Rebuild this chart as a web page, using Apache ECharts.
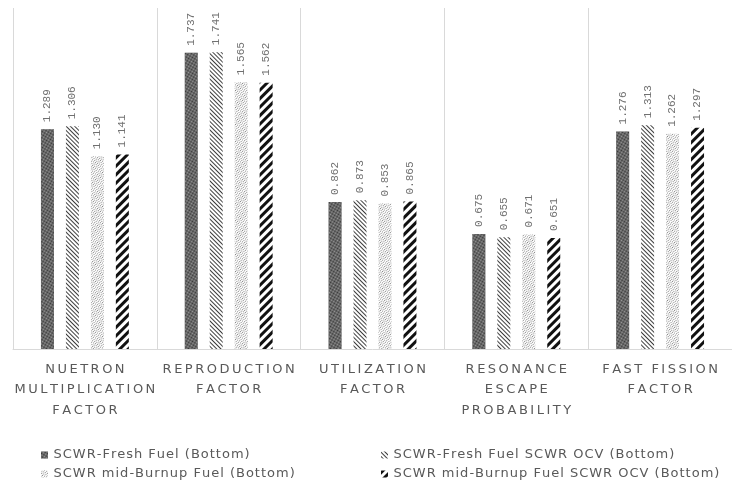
<!DOCTYPE html>
<html>
<head>
<meta charset="utf-8">
<script src="https://cdn.jsdelivr.net/npm/echarts@6/dist/echarts.min.js"></script>
<style>
  html, body { margin: 0; padding: 0; background: #ffffff; }
  #chart { width: 732px; height: 493px; }
</style>
</head>
<body>
<div id="chart"></div>
<script>
// Neutron-balance factors for the SCWR fuel cases
const categories = [
  'NUETRON\nMULTIPLICATION\nFACTOR',
  'REPRODUCTION\nFACTOR',
  'UTILIZATION\nFACTOR',
  'RESONANCE\nESCAPE\nPROBABILITY',
  'FAST FISSION\nFACTOR'
];
const seriesNames = [
  'SCWR-Fresh Fuel (Bottom)',
  'SCWR-Fresh Fuel SCWR OCV (Bottom)',
  'SCWR mid-Burnup Fuel (Bottom)',
  'SCWR mid-Burnup Fuel SCWR OCV (Bottom)'
];
const freshBottom = [1.289, 1.737, 0.862, 0.675, 1.276];
const freshOcv    = [1.306, 1.741, 0.873, 0.655, 1.313];
const midBottom   = [1.130, 1.565, 0.853, 0.671, 1.262];
const midOcv      = [1.141, 1.562, 0.865, 0.651, 1.297];

// Fill patterns for the four bar series
const patterns = [
  { // dense dark checker
    color: '#333333',
    decal: { symbol: 'rect', symbolSize: 1, color: 'rgba(255,255,255,0.5)',
             dashArrayX: [[1, 1], [0, 1, 1, 0]], dashArrayY: [1, 0] }
  },
  { // thin downward diagonal
    color: '#ffffff',
    decal: { symbol: 'rect', symbolSize: 1, color: '#3d3d3d',
             dashArrayX: [1, 0], dashArrayY: [1, 2], rotation: Math.PI / 4 }
  },
  { // dotted grid
    color: '#ffffff',
    decal: { symbol: 'rect', symbolSize: 1, color: '#808080',
             dashArrayX: [[1, 1], [0, 1, 1, 0]], dashArrayY: [1, 1] }
  },
  { // wide upward diagonal
    color: '#ffffff',
    decal: { symbol: 'rect', symbolSize: 1, color: '#111111',
             dashArrayX: [1, 0], dashArrayY: [2.2, 2.6], rotation: -Math.PI / 4 }
  }
];

const values = [freshBottom, freshOcv, midBottom, midOcv];

// Spread the letters of a label apart: each character becomes its own
// rich-text token with a little horizontal padding.
function spaced(text, style) {
  return text.split('\n')
    .map(line => Array.from(line).map(ch => '{' + style + '|' + ch + '}').join(''))
    .join('\n');
}

const chart = echarts.init(document.getElementById('chart'), null, { renderer: 'canvas' });

const series = values.map((vals, i) => ({
  name: seriesNames[i],
  type: 'bar',
  data: vals,
  barWidth: 13,
  barGap: '92%',
  itemStyle: { color: patterns[i].color, decal: patterns[i].decal },
  label: {
    show: true,
    position: 'top',
    rotate: 90,
    align: 'left',
    verticalAlign: 'middle',
    distance: 7,
    color: '#707070',
    fontFamily: 'Liberation Mono',
    fontSize: 11,
    formatter: p => p.value.toFixed(3)
  }
}));

const legendText = {
  color: '#595959', fontFamily: 'DejaVu Sans', fontSize: 13, lineHeight: 14,
  rich: {
    l: { color: '#595959', fontFamily: 'DejaVu Sans', fontSize: 13, lineHeight: 14, padding: [0, 0.5, 0, 0.5] }
  }
};

chart.setOption({
  animation: false,
  backgroundColor: '#ffffff',
  aria: { decal: { show: true } },
  grid: { left: 13, top: 8, width: 730, bottom: 144 },
  legend: [
    {
      data: [seriesNames[0], seriesNames[2]],
      orient: 'vertical', left: 36, top: 443,
      itemWidth: 7, itemHeight: 7, itemGap: 5, icon: 'rect',
      formatter: name => spaced(name, 'l'),
      textStyle: legendText
    },
    {
      data: [seriesNames[1], seriesNames[3]],
      orient: 'vertical', left: 376, top: 443,
      itemWidth: 7, itemHeight: 7, itemGap: 5, icon: 'rect',
      formatter: name => spaced(name, 'l'),
      textStyle: legendText
    }
  ],
  xAxis: {
    type: 'category',
    data: categories,
    axisLine: { lineStyle: { color: '#d9d9d9', width: 1 } },
    axisTick: { show: false },
    splitLine: { show: true, interval: 0, lineStyle: { color: '#d9d9d9', width: 1 } },
    axisLabel: {
      interval: 0,
      margin: 10,
      color: '#595959',
      fontFamily: 'DejaVu Sans',
      fontSize: 13,
      lineHeight: 20.5,
      formatter: v => spaced(v, 'c'),
      rich: {
        c: { color: '#595959', fontFamily: 'DejaVu Sans', fontSize: 13, lineHeight: 20.5, padding: [0, 1.25, 0, 1.25] }
      }
    }
  },
  yAxis: {
    type: 'value',
    min: 0,
    max: 2,
    show: false,
    splitLine: { show: false }
  },
  series: series
});
</script>
</body>
</html>
